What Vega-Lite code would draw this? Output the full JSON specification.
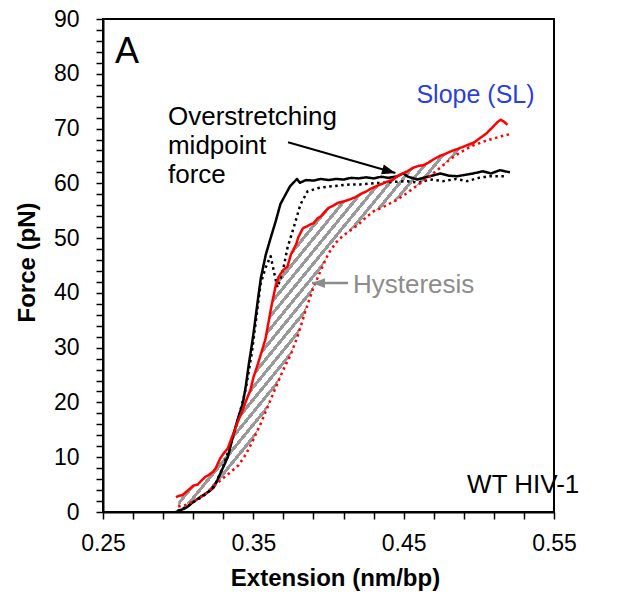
{
"$schema": "https://vega.github.io/schema/vega-lite/v6.json",
"width": 451, "height": 493,
"autosize": {"type": "none"},
"padding": {"left": 103, "top": 19, "right": 85, "bottom": 95},
"background": "white",
"config": {
  "view": {"stroke": "#000", "strokeWidth": 2},
  "font": "Liberation Sans",
  "axis": {"grid": false, "domainColor": "#000", "domainWidth": 2, "tickColor": "#000", "tickWidth": 1.5, "tickSize": 7, "labelColor": "#000", "labelFont": "Liberation Sans", "labelFontSize": 23, "titleFont": "Liberation Sans", "titleFontSize": 24, "titleFontWeight": "bold", "titleColor": "#000", "labelOverlap": false, "labelFlush": false, "labelBound": false}
},
"datasets": {
  "curves": [
    {"curve":"bs","x":0.2985,"y":0},{"curve":"bs","x":0.301,"y":0.3},{"curve":"bs","x":0.304,"y":0.6},{"curve":"bs","x":0.3064,"y":1.0},{"curve":"bs","x":0.309,"y":1.6},{"curve":"bs","x":0.312,"y":2.2},{"curve":"bs","x":0.315,"y":2.8},{"curve":"bs","x":0.318,"y":3.3},{"curve":"bs","x":0.3217,"y":4.0},{"curve":"bs","x":0.3237,"y":4.5},{"curve":"bs","x":0.326,"y":5.8},{"curve":"bs","x":0.328,"y":7.0},{"curve":"bs","x":0.331,"y":8.8},{"curve":"bs","x":0.333,"y":10.0},{"curve":"bs","x":0.335,"y":12.2},{"curve":"bs","x":0.337,"y":14.4},{"curve":"bs","x":0.340,"y":17.3},{"curve":"bs","x":0.343,"y":19.8},{"curve":"bs","x":0.345,"y":23.0},{"curve":"bs","x":0.347,"y":27.0},{"curve":"bs","x":0.349,"y":30.5},{"curve":"bs","x":0.3506,"y":33.6},{"curve":"bs","x":0.3529,"y":38.5},{"curve":"bs","x":0.355,"y":42.7},{"curve":"bs","x":0.3583,"y":47.0},{"curve":"bs","x":0.3615,"y":50.0},{"curve":"bs","x":0.3648,"y":53.0},{"curve":"bs","x":0.368,"y":56.2},{"curve":"bs","x":0.3715,"y":58.0},{"curve":"bs","x":0.3745,"y":59.5},{"curve":"bs","x":0.377,"y":60.2},{"curve":"bs","x":0.379,"y":60.8},{"curve":"bs","x":0.381,"y":60.1},{"curve":"bs","x":0.385,"y":60.6},{"curve":"bs","x":0.390,"y":60.5},{"curve":"bs","x":0.395,"y":60.8},{"curve":"bs","x":0.400,"y":60.6},{"curve":"bs","x":0.405,"y":60.8},{"curve":"bs","x":0.410,"y":60.7},{"curve":"bs","x":0.415,"y":61.0},{"curve":"bs","x":0.420,"y":60.9},{"curve":"bs","x":0.425,"y":61.1},{"curve":"bs","x":0.430,"y":60.9},{"curve":"bs","x":0.435,"y":61.2},{"curve":"bs","x":0.440,"y":61.0},{"curve":"bs","x":0.4458,"y":61.3},{"curve":"bs","x":0.4497,"y":61.8},{"curve":"bs","x":0.453,"y":61.2},{"curve":"bs","x":0.459,"y":60.7},{"curve":"bs","x":0.4676,"y":61.3},{"curve":"bs","x":0.4743,"y":61.8},{"curve":"bs","x":0.480,"y":61.4},{"curve":"bs","x":0.4856,"y":61.3},{"curve":"bs","x":0.4962,"y":61.8},{"curve":"bs","x":0.5028,"y":62.2},{"curve":"bs","x":0.508,"y":61.8},{"curve":"bs","x":0.5141,"y":62.4},{"curve":"bs","x":0.5207,"y":62.0},
    {"curve":"bd","x":0.2995,"y":0.2},{"curve":"bd","x":0.302,"y":0.5},{"curve":"bd","x":0.306,"y":1.0},{"curve":"bd","x":0.310,"y":1.8},{"curve":"bd","x":0.315,"y":2.6},{"curve":"bd","x":0.320,"y":3.6},{"curve":"bd","x":0.325,"y":5.2},{"curve":"bd","x":0.330,"y":8.3},{"curve":"bd","x":0.335,"y":12.5},{"curve":"bd","x":0.340,"y":17.0},{"curve":"bd","x":0.345,"y":22.5},{"curve":"bd","x":0.349,"y":29.0},{"curve":"bd","x":0.352,"y":35.5},{"curve":"bd","x":0.3548,"y":41.6},{"curve":"bd","x":0.358,"y":44.5},{"curve":"bd","x":0.3615,"y":46.7},{"curve":"bd","x":0.364,"y":43.5},{"curve":"bd","x":0.366,"y":41.0},{"curve":"bd","x":0.368,"y":42.5},{"curve":"bd","x":0.370,"y":44.5},{"curve":"bd","x":0.3727,"y":48.2},{"curve":"bd","x":0.3767,"y":51.8},{"curve":"bd","x":0.3814,"y":56.2},{"curve":"bd","x":0.386,"y":58.5},{"curve":"bd","x":0.3927,"y":59.1},{"curve":"bd","x":0.3966,"y":59.3},{"curve":"bd","x":0.4035,"y":59.5},{"curve":"bd","x":0.4146,"y":59.8},{"curve":"bd","x":0.421,"y":59.8},{"curve":"bd","x":0.430,"y":60.0},{"curve":"bd","x":0.440,"y":60.2},{"curve":"bd","x":0.4524,"y":60.4},{"curve":"bd","x":0.460,"y":60.1},{"curve":"bd","x":0.4676,"y":60.7},{"curve":"bd","x":0.4763,"y":60.4},{"curve":"bd","x":0.485,"y":60.8},{"curve":"bd","x":0.4922,"y":60.4},{"curve":"bd","x":0.500,"y":61.0},{"curve":"bd","x":0.5075,"y":61.3},{"curve":"bd","x":0.5187,"y":61.3},
    {"curve":"rs","x":0.2985,"y":2.7},{"curve":"rs","x":0.300,"y":2.9},{"curve":"rs","x":0.303,"y":3.1},{"curve":"rs","x":0.305,"y":3.6},{"curve":"rs","x":0.308,"y":4.3},{"curve":"rs","x":0.310,"y":4.8},{"curve":"rs","x":0.313,"y":5.0},{"curve":"rs","x":0.315,"y":5.6},{"curve":"rs","x":0.318,"y":6.4},{"curve":"rs","x":0.320,"y":6.7},{"curve":"rs","x":0.323,"y":7.3},{"curve":"rs","x":0.325,"y":8.0},{"curve":"rs","x":0.328,"y":9.8},{"curve":"rs","x":0.330,"y":10.6},{"curve":"rs","x":0.333,"y":11.6},{"curve":"rs","x":0.335,"y":13.1},{"curve":"rs","x":0.338,"y":15.2},{"curve":"rs","x":0.340,"y":16.7},{"curve":"rs","x":0.343,"y":18.6},{"curve":"rs","x":0.345,"y":20.2},{"curve":"rs","x":0.348,"y":22.2},{"curve":"rs","x":0.350,"y":24.5},{"curve":"rs","x":0.353,"y":27.0},{"curve":"rs","x":0.355,"y":28.8},{"curve":"rs","x":0.358,"y":31.5},{"curve":"rs","x":0.360,"y":34.5},{"curve":"rs","x":0.362,"y":37.5},{"curve":"rs","x":0.365,"y":41.5},{"curve":"rs","x":0.367,"y":43.0},{"curve":"rs","x":0.370,"y":44.2},{"curve":"rs","x":0.3727,"y":44.8},{"curve":"rs","x":0.375,"y":47.0},{"curve":"rs","x":0.3785,"y":48.9},{"curve":"rs","x":0.380,"y":50.2},{"curve":"rs","x":0.383,"y":51.8},{"curve":"rs","x":0.386,"y":52.2},{"curve":"rs","x":0.388,"y":52.5},{"curve":"rs","x":0.390,"y":52.7},{"curve":"rs","x":0.3927,"y":53.6},{"curve":"rs","x":0.395,"y":54.0},{"curve":"rs","x":0.3975,"y":54.8},{"curve":"rs","x":0.400,"y":55.5},{"curve":"rs","x":0.403,"y":55.9},{"curve":"rs","x":0.406,"y":56.4},{"curve":"rs","x":0.410,"y":56.7},{"curve":"rs","x":0.4146,"y":57.1},{"curve":"rs","x":0.418,"y":57.5},{"curve":"rs","x":0.421,"y":58.0},{"curve":"rs","x":0.425,"y":58.5},{"curve":"rs","x":0.428,"y":59.0},{"curve":"rs","x":0.432,"y":59.5},{"curve":"rs","x":0.4365,"y":60.0},{"curve":"rs","x":0.440,"y":60.4},{"curve":"rs","x":0.443,"y":60.7},{"curve":"rs","x":0.447,"y":61.5},{"curve":"rs","x":0.4524,"y":62.2},{"curve":"rs","x":0.456,"y":62.8},{"curve":"rs","x":0.460,"y":63.2},{"curve":"rs","x":0.463,"y":63.3},{"curve":"rs","x":0.466,"y":63.7},{"curve":"rs","x":0.470,"y":64.4},{"curve":"rs","x":0.474,"y":65.0},{"curve":"rs","x":0.478,"y":65.4},{"curve":"rs","x":0.481,"y":65.8},{"curve":"rs","x":0.485,"y":66.2},{"curve":"rs","x":0.489,"y":66.6},{"curve":"rs","x":0.4925,"y":67.0},{"curve":"rs","x":0.497,"y":67.5},{"curve":"rs","x":0.501,"y":68.3},{"curve":"rs","x":0.505,"y":69.1},{"curve":"rs","x":0.5097,"y":70.4},{"curve":"rs","x":0.5125,"y":71.2},{"curve":"rs","x":0.5145,"y":71.6},{"curve":"rs","x":0.517,"y":71.2},{"curve":"rs","x":0.519,"y":70.7},
    {"curve":"rd","x":0.300,"y":1.0},{"curve":"rd","x":0.305,"y":1.3},{"curve":"rd","x":0.310,"y":1.9},{"curve":"rd","x":0.315,"y":2.7},{"curve":"rd","x":0.320,"y":3.7},{"curve":"rd","x":0.325,"y":5.0},{"curve":"rd","x":0.330,"y":6.2},{"curve":"rd","x":0.335,"y":7.3},{"curve":"rd","x":0.340,"y":8.5},{"curve":"rd","x":0.345,"y":10.5},{"curve":"rd","x":0.350,"y":13.2},{"curve":"rd","x":0.355,"y":16.2},{"curve":"rd","x":0.360,"y":19.5},{"curve":"rd","x":0.365,"y":22.8},{"curve":"rd","x":0.370,"y":26.0},{"curve":"rd","x":0.375,"y":28.8},{"curve":"rd","x":0.380,"y":32.5},{"curve":"rd","x":0.385,"y":37.0},{"curve":"rd","x":0.390,"y":41.0},{"curve":"rd","x":0.395,"y":44.2},{"curve":"rd","x":0.400,"y":47.2},{"curve":"rd","x":0.405,"y":49.2},{"curve":"rd","x":0.410,"y":50.5},{"curve":"rd","x":0.415,"y":51.5},{"curve":"rd","x":0.420,"y":52.5},{"curve":"rd","x":0.425,"y":53.8},{"curve":"rd","x":0.430,"y":54.9},{"curve":"rd","x":0.435,"y":55.5},{"curve":"rd","x":0.440,"y":56.2},{"curve":"rd","x":0.445,"y":56.9},{"curve":"rd","x":0.450,"y":57.8},{"curve":"rd","x":0.455,"y":58.8},{"curve":"rd","x":0.460,"y":59.8},{"curve":"rd","x":0.465,"y":60.8},{"curve":"rd","x":0.470,"y":61.9},{"curve":"rd","x":0.475,"y":63.0},{"curve":"rd","x":0.480,"y":64.2},{"curve":"rd","x":0.485,"y":65.2},{"curve":"rd","x":0.490,"y":66.0},{"curve":"rd","x":0.495,"y":66.8},{"curve":"rd","x":0.500,"y":67.3},{"curve":"rd","x":0.505,"y":67.8},{"curve":"rd","x":0.510,"y":68.2},{"curve":"rd","x":0.515,"y":68.6},{"curve":"rd","x":0.521,"y":69.0}
  ],
  "hyst": [
    {"x":0.300,"y":2.9,"lo":1.0},{"x":0.305,"y":3.6,"lo":1.3},{"x":0.310,"y":4.8,"lo":1.9},{"x":0.315,"y":5.6,"lo":2.7},{"x":0.320,"y":6.7,"lo":3.7},{"x":0.325,"y":8.0,"lo":5.0},{"x":0.330,"y":10.6,"lo":6.2},{"x":0.335,"y":13.1,"lo":7.3},{"x":0.340,"y":16.7,"lo":8.5},{"x":0.345,"y":20.2,"lo":10.5},{"x":0.350,"y":24.5,"lo":13.2},{"x":0.355,"y":28.8,"lo":16.2},{"x":0.360,"y":34.5,"lo":19.5},{"x":0.365,"y":41.5,"lo":22.8},{"x":0.370,"y":44.2,"lo":26.0},{"x":0.375,"y":47.0,"lo":28.8},{"x":0.380,"y":50.2,"lo":32.5},{"x":0.385,"y":52.0,"lo":37.0},{"x":0.390,"y":52.7,"lo":41.0},{"x":0.395,"y":54.0,"lo":44.2},{"x":0.400,"y":55.5,"lo":47.2},{"x":0.405,"y":56.2,"lo":49.2},{"x":0.410,"y":56.7,"lo":50.5},{"x":0.415,"y":57.1,"lo":51.5},{"x":0.420,"y":57.9,"lo":52.5},{"x":0.425,"y":58.5,"lo":53.8},{"x":0.430,"y":59.2,"lo":54.9},{"x":0.435,"y":59.8,"lo":55.5},{"x":0.440,"y":60.4,"lo":56.2},{"x":0.445,"y":61.2,"lo":56.9},{"x":0.450,"y":62.0,"lo":57.8},{"x":0.455,"y":62.7,"lo":58.8},{"x":0.460,"y":63.2,"lo":59.8},{"x":0.465,"y":63.6,"lo":60.8},{"x":0.470,"y":64.4,"lo":61.9},{"x":0.475,"y":65.1,"lo":63.0},{"x":0.480,"y":65.7,"lo":64.2},{"x":0.485,"y":66.2,"lo":65.2},{"x":0.490,"y":66.7,"lo":66.0},{"x":0.495,"y":67.3,"lo":66.8},{"x":0.500,"y":68.1,"lo":67.3}
  ],
  "notes": [
    {"kind":"A","text":"A","x":0.258,"y":82.0},
    {"kind":"black","text":"Overstretching","x":0.2932,"y":70.6},
    {"kind":"black","text":"midpoint","x":0.2932,"y":65.3},
    {"kind":"black","text":"force","x":0.2932,"y":60.1},
    {"kind":"black","text":"WT HIV-1","x":0.4922,"y":3.5},
    {"kind":"blue","text":"Slope (SL)","x":0.4585,"y":74.7},
    {"kind":"gray","text":"Hysteresis","x":0.4163,"y":40.0}
  ],
  "arrows": [
    {"name":"midpoint","x":0.3731,"y":67.5,"xe":0.4445,"ye":61.9},
    {"name":"hyst","x":0.413,"y":41.8,"xe":0.389,"ye":41.8}
  ],
  "heads": [
    {"name":"midpoint","x":0.4445,"y":61.9},
    {"name":"hyst","x":0.389,"y":41.8}
  ]
},
"encoding": {
  "x": {"field": "x", "type": "quantitative", "scale": {"domain": [0.25, 0.55], "nice": false, "zero": false},
    "axis": {"title": "Extension (nm/bp)", "values": [0.25,0.27,0.29,0.31,0.33,0.35,0.37,0.39,0.41,0.43,0.45,0.47,0.49,0.51,0.53,0.55], "format": ".2f", "labelExpr": "indexof(['0.25','0.35','0.45','0.55'], datum.label) >= 0 ? datum.label : ''", "labelPadding": 13, "titleX": 232, "titleY": 73, "titleBaseline": "alphabetic", "titleAlign": "center"}},
  "y": {"field": "y", "type": "quantitative", "scale": {"domain": [0, 90], "nice": false, "zero": true},
    "axis": {"title": "Force (pN)", "values": [0,2,4,6,8,10,12,14,16,18,20,22,24,26,28,30,32,34,36,38,40,42,44,46,48,50,52,54,56,58,60,62,64,66,68,70,72,74,76,78,80,82,84,86,88,90], "labelExpr": "datum.value % 10 === 0 ? datum.label : ''", "labelPadding": 17, "titleX": -76, "titleY": 243, "titleAngle": -90, "titleAlign": "center", "titleBaseline": "middle"}}
},
"layer": [
  {"data": {"name": "hyst"},
   "mark": {"type": "area", "color": {"gradient": "linear", "x1": 0, "y1": 0, "x2": 0.85, "y2": 0.85, "stops": [
{"offset":0,"color":"#999"},{"offset":0.008,"color":"#999"},{"offset":0.008,"color":"#fff"},{"offset":0.02,"color":"#fff"},
{"offset":0.02,"color":"#999"},{"offset":0.028,"color":"#999"},{"offset":0.028,"color":"#fff"},{"offset":0.04,"color":"#fff"},
{"offset":0.04,"color":"#999"},{"offset":0.048,"color":"#999"},{"offset":0.048,"color":"#fff"},{"offset":0.06,"color":"#fff"},
{"offset":0.06,"color":"#999"},{"offset":0.068,"color":"#999"},{"offset":0.068,"color":"#fff"},{"offset":0.08,"color":"#fff"},
{"offset":0.08,"color":"#999"},{"offset":0.088,"color":"#999"},{"offset":0.088,"color":"#fff"},{"offset":0.1,"color":"#fff"},
{"offset":0.1,"color":"#999"},{"offset":0.108,"color":"#999"},{"offset":0.108,"color":"#fff"},{"offset":0.12,"color":"#fff"},
{"offset":0.12,"color":"#999"},{"offset":0.128,"color":"#999"},{"offset":0.128,"color":"#fff"},{"offset":0.14,"color":"#fff"},
{"offset":0.14,"color":"#999"},{"offset":0.148,"color":"#999"},{"offset":0.148,"color":"#fff"},{"offset":0.16,"color":"#fff"},
{"offset":0.16,"color":"#999"},{"offset":0.168,"color":"#999"},{"offset":0.168,"color":"#fff"},{"offset":0.18,"color":"#fff"},
{"offset":0.18,"color":"#999"},{"offset":0.188,"color":"#999"},{"offset":0.188,"color":"#fff"},{"offset":0.2,"color":"#fff"},
{"offset":0.2,"color":"#999"},{"offset":0.208,"color":"#999"},{"offset":0.208,"color":"#fff"},{"offset":0.22,"color":"#fff"},
{"offset":0.22,"color":"#999"},{"offset":0.228,"color":"#999"},{"offset":0.228,"color":"#fff"},{"offset":0.24,"color":"#fff"},
{"offset":0.24,"color":"#999"},{"offset":0.248,"color":"#999"},{"offset":0.248,"color":"#fff"},{"offset":0.26,"color":"#fff"},
{"offset":0.26,"color":"#999"},{"offset":0.268,"color":"#999"},{"offset":0.268,"color":"#fff"},{"offset":0.28,"color":"#fff"},
{"offset":0.28,"color":"#999"},{"offset":0.288,"color":"#999"},{"offset":0.288,"color":"#fff"},{"offset":0.3,"color":"#fff"},
{"offset":0.3,"color":"#999"},{"offset":0.308,"color":"#999"},{"offset":0.308,"color":"#fff"},{"offset":0.32,"color":"#fff"},
{"offset":0.32,"color":"#999"},{"offset":0.328,"color":"#999"},{"offset":0.328,"color":"#fff"},{"offset":0.34,"color":"#fff"},
{"offset":0.34,"color":"#999"},{"offset":0.348,"color":"#999"},{"offset":0.348,"color":"#fff"},{"offset":0.36,"color":"#fff"},
{"offset":0.36,"color":"#999"},{"offset":0.368,"color":"#999"},{"offset":0.368,"color":"#fff"},{"offset":0.38,"color":"#fff"},
{"offset":0.38,"color":"#999"},{"offset":0.388,"color":"#999"},{"offset":0.388,"color":"#fff"},{"offset":0.4,"color":"#fff"},
{"offset":0.4,"color":"#999"},{"offset":0.408,"color":"#999"},{"offset":0.408,"color":"#fff"},{"offset":0.42,"color":"#fff"},
{"offset":0.42,"color":"#999"},{"offset":0.428,"color":"#999"},{"offset":0.428,"color":"#fff"},{"offset":0.44,"color":"#fff"},
{"offset":0.44,"color":"#999"},{"offset":0.448,"color":"#999"},{"offset":0.448,"color":"#fff"},{"offset":0.46,"color":"#fff"},
{"offset":0.46,"color":"#999"},{"offset":0.468,"color":"#999"},{"offset":0.468,"color":"#fff"},{"offset":0.48,"color":"#fff"},
{"offset":0.48,"color":"#999"},{"offset":0.488,"color":"#999"},{"offset":0.488,"color":"#fff"},{"offset":0.5,"color":"#fff"},
{"offset":0.5,"color":"#999"},{"offset":0.508,"color":"#999"},{"offset":0.508,"color":"#fff"},{"offset":0.52,"color":"#fff"},
{"offset":0.52,"color":"#999"},{"offset":0.528,"color":"#999"},{"offset":0.528,"color":"#fff"},{"offset":0.54,"color":"#fff"},
{"offset":0.54,"color":"#999"},{"offset":0.548,"color":"#999"},{"offset":0.548,"color":"#fff"},{"offset":0.56,"color":"#fff"},
{"offset":0.56,"color":"#999"},{"offset":0.568,"color":"#999"},{"offset":0.568,"color":"#fff"},{"offset":0.58,"color":"#fff"},
{"offset":0.58,"color":"#999"},{"offset":0.588,"color":"#999"},{"offset":0.588,"color":"#fff"},{"offset":0.6,"color":"#fff"},
{"offset":0.6,"color":"#999"},{"offset":0.608,"color":"#999"},{"offset":0.608,"color":"#fff"},{"offset":0.62,"color":"#fff"},
{"offset":0.62,"color":"#999"},{"offset":0.628,"color":"#999"},{"offset":0.628,"color":"#fff"},{"offset":0.64,"color":"#fff"},
{"offset":0.64,"color":"#999"},{"offset":0.648,"color":"#999"},{"offset":0.648,"color":"#fff"},{"offset":0.66,"color":"#fff"},
{"offset":0.66,"color":"#999"},{"offset":0.668,"color":"#999"},{"offset":0.668,"color":"#fff"},{"offset":0.68,"color":"#fff"},
{"offset":0.68,"color":"#999"},{"offset":0.688,"color":"#999"},{"offset":0.688,"color":"#fff"},{"offset":0.7,"color":"#fff"},
{"offset":0.7,"color":"#999"},{"offset":0.708,"color":"#999"},{"offset":0.708,"color":"#fff"},{"offset":0.72,"color":"#fff"},
{"offset":0.72,"color":"#999"},{"offset":0.728,"color":"#999"},{"offset":0.728,"color":"#fff"},{"offset":0.74,"color":"#fff"},
{"offset":0.74,"color":"#999"},{"offset":0.748,"color":"#999"},{"offset":0.748,"color":"#fff"},{"offset":0.76,"color":"#fff"},
{"offset":0.76,"color":"#999"},{"offset":0.768,"color":"#999"},{"offset":0.768,"color":"#fff"},{"offset":0.78,"color":"#fff"},
{"offset":0.78,"color":"#999"},{"offset":0.788,"color":"#999"},{"offset":0.788,"color":"#fff"},{"offset":0.8,"color":"#fff"},
{"offset":0.8,"color":"#999"},{"offset":0.808,"color":"#999"},{"offset":0.808,"color":"#fff"},{"offset":0.82,"color":"#fff"},
{"offset":0.82,"color":"#999"},{"offset":0.828,"color":"#999"},{"offset":0.828,"color":"#fff"},{"offset":0.84,"color":"#fff"},
{"offset":0.84,"color":"#999"},{"offset":0.848,"color":"#999"},{"offset":0.848,"color":"#fff"},{"offset":0.86,"color":"#fff"},
{"offset":0.86,"color":"#999"},{"offset":0.868,"color":"#999"},{"offset":0.868,"color":"#fff"},{"offset":0.88,"color":"#fff"},
{"offset":0.88,"color":"#999"},{"offset":0.888,"color":"#999"},{"offset":0.888,"color":"#fff"},{"offset":0.9,"color":"#fff"},
{"offset":0.9,"color":"#999"},{"offset":0.908,"color":"#999"},{"offset":0.908,"color":"#fff"},{"offset":0.92,"color":"#fff"},
{"offset":0.92,"color":"#999"},{"offset":0.928,"color":"#999"},{"offset":0.928,"color":"#fff"},{"offset":0.94,"color":"#fff"},
{"offset":0.94,"color":"#999"},{"offset":0.948,"color":"#999"},{"offset":0.948,"color":"#fff"},{"offset":0.96,"color":"#fff"},
{"offset":0.96,"color":"#999"},{"offset":0.968,"color":"#999"},{"offset":0.968,"color":"#fff"},{"offset":0.98,"color":"#fff"},
{"offset":0.98,"color":"#999"},{"offset":0.988,"color":"#999"},{"offset":0.988,"color":"#fff"},{"offset":1,"color":"#fff"}
   ]}},
   "encoding": {"y2": {"field": "lo"}}
  },
  {"data": {"name": "curves"},
   "mark": {"type": "line", "strokeWidth": 2.5, "strokeJoin": "round"},
   "encoding": {
     "color": {"field": "curve", "type": "nominal", "scale": {"domain": ["bs","bd","rs","rd"], "range": ["#000000","#000000","#ff0000","#ff0000"]}, "legend": null},
     "strokeDash": {"field": "curve", "type": "nominal", "scale": {"domain": ["bs","bd","rs","rd"], "range": [[1,0],[2.5,3.5],[1,0],[2.5,3.5]]}, "legend": null}
   }
  },
  {"data": {"name": "arrows"},
   "transform": [{"filter": "datum.name === 'midpoint'"}],
   "mark": {"type": "rule", "color": "#000", "strokeWidth": 2},
   "encoding": {"x2": {"field": "xe"}, "y2": {"field": "ye"}}
  },
  {"data": {"name": "arrows"},
   "transform": [{"filter": "datum.name === 'hyst'"}],
   "mark": {"type": "rule", "color": "#8c8c8c", "strokeWidth": 2.5},
   "encoding": {"x2": {"field": "xe"}, "y2": {"field": "ye"}}
  },
  {"data": {"name": "heads"},
   "transform": [{"filter": "datum.name === 'midpoint'"}],
   "mark": {"type": "point", "shape": "M0,0L-2,-0.75L-2,0.75Z", "size": 180, "filled": true, "color": "#000", "opacity": 1, "angle": 15.7}
  },
  {"data": {"name": "heads"},
   "transform": [{"filter": "datum.name === 'hyst'"}],
   "mark": {"type": "point", "shape": "M0,0L-2,-0.75L-2,0.75Z", "size": 170, "filled": true, "color": "#8c8c8c", "opacity": 1, "angle": 180}
  },
  {"data": {"name": "notes"},
   "transform": [{"filter": "datum.kind === 'A'"}],
   "mark": {"type": "text", "font": "Liberation Sans", "fontSize": 36, "align": "left", "baseline": "alphabetic", "color": "#000"},
   "encoding": {"text": {"field": "text"}}
  },
  {"data": {"name": "notes"},
   "transform": [{"filter": "datum.kind === 'black'"}],
   "mark": {"type": "text", "font": "Liberation Sans", "fontSize": 26, "align": "left", "baseline": "alphabetic", "color": "#000"},
   "encoding": {"text": {"field": "text"}}
  },
  {"data": {"name": "notes"},
   "transform": [{"filter": "datum.kind === 'blue'"}],
   "mark": {"type": "text", "font": "Liberation Sans", "fontSize": 25, "align": "left", "baseline": "alphabetic", "color": "#2b3fd9"},
   "encoding": {"text": {"field": "text"}}
  },
  {"data": {"name": "notes"},
   "transform": [{"filter": "datum.kind === 'gray'"}],
   "mark": {"type": "text", "font": "Liberation Sans", "fontSize": 26, "align": "left", "baseline": "alphabetic", "color": "#8c8c8c"},
   "encoding": {"text": {"field": "text"}}
  }
]
}
